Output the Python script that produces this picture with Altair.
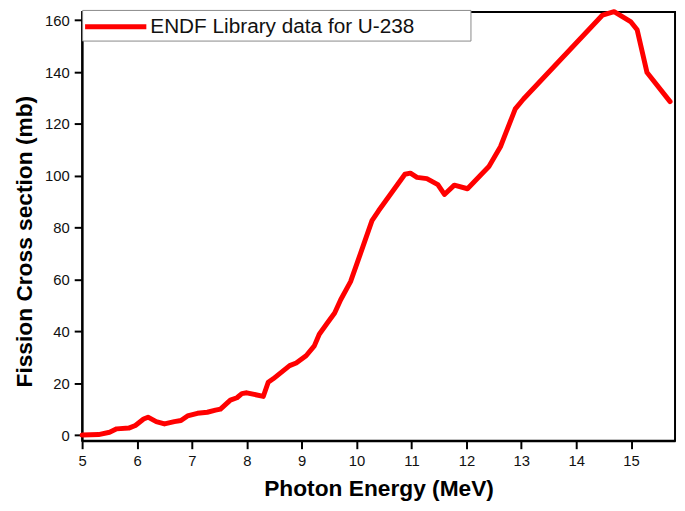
import altair as alt
import pandas as pd

# Photon energy (MeV)
energy = [5.0, 5.3, 5.5, 5.63, 5.85, 5.97, 6.12, 6.2, 6.35, 6.5, 6.68, 6.8, 6.92,
          7.1, 7.28, 7.43, 7.52, 7.7, 7.82, 7.91, 8.0, 8.3, 8.39, 8.48, 8.78, 8.9,
          9.08, 9.23, 9.32, 9.47, 9.6, 9.71, 9.89, 10.07, 10.28, 10.4, 10.88, 10.98,
          11.1, 11.28, 11.48, 11.6, 11.78, 12.02, 12.41, 12.62, 12.89, 13.04, 14.48,
          14.69, 14.99, 15.11, 15.29, 15.71]
# Fission cross section (mb)
cross_section = [0.0, 0.2, 1.1, 2.4, 2.7, 3.7, 6.2, 6.9, 5.2, 4.3, 5.2, 5.6, 7.4,
                 8.4, 8.8, 9.6, 10.0, 13.5, 14.4, 16.0, 16.3, 14.9, 20.4, 21.7, 26.8, 27.8,
                 30.6, 34.4, 38.9, 43.3, 47.1, 52.2, 59.2, 70.0, 82.7, 86.5, 100.6, 101.0,
                 99.4, 98.9, 96.6, 92.8, 96.4, 95.0, 103.6, 111.2, 125.8, 129.6, 162.0,
                 163.3, 159.5, 156.3, 139.8, 128.6]
series_name = "ENDF Library data for U-238"
x_ticks = [5, 6, 7, 8, 9, 10, 11, 12, 13, 14, 15]
y_ticks = [0, 20, 40, 60, 80, 100, 120, 140, 160]

df = pd.DataFrame({"energy": energy, "xs": cross_section, "series": series_name})

FONT = "Liberation Sans"
PAD = "\u00a0" * 9 + "\u200b"
TICK = "black"

chart = alt.Chart(df).mark_line(
    strokeWidth=5, strokeJoin="round", strokeCap="round", clip=False
).encode(
    x=alt.X("energy:Q",
            scale=alt.Scale(domain=[5, 15.8], nice=False, zero=False),
            axis=alt.Axis(values=x_ticks, format="d", title="Photon Energy (MeV)",
                          ticks=True, tickSize=8, tickWidth=2, tickColor=TICK,
                          labelFlush=False,
                          titleY=55, titleBaseline="alphabetic")),
    y=alt.Y("xs:Q",
            scale=alt.Scale(domain=[-2.2, 163.2], nice=False, zero=False),
            axis=alt.Axis(values=y_ticks, format="d", title="Fission Cross section (mb)",
                          ticks=True, tickSize=8, tickWidth=2, tickColor=TICK,
                          labelFlush=False,
                          titleX=-51, titleY=232, titleAngle=270, titleAlign="center",
                          titleBaseline="alphabetic")),
    color=alt.Color("series:N",
                    scale=alt.Scale(domain=[series_name], range=["#ff0000"]),
                    legend=alt.Legend(title=None, orient="none", legendX=0, legendY=-2,
                                      symbolType="M-3,0H3", symbolStrokeWidth=5,
                                      symbolSize=427, symbolOffset=17, labelOffset=22,
                                      labelFontSize=21, labelFont=FONT, labelLimit=1000,
                                      labelColor="#111111", padding=4,
                                      strokeColor="#888888", fillColor="white",
                                      labelExpr="datum.label + '" + PAD + "'")),
).properties(
    width=600, height=434,
    autosize=alt.AutoSizeParams(type="none"),
    padding={"left": 75, "top": 1, "right": 2, "bottom": 60},
).configure_view(
    stroke="black", strokeWidth=2
).configure_axis(
    grid=False, domainColor="black", domainWidth=2, tickColor=TICK, tickWidth=2,
    ticks=True, tickSize=8, labelFont=FONT, labelFontSize=15, labelColor="#111111",
    labelPadding=5, titleFont=FONT, titleFontSize=23, titleFontWeight="bold",
    titleColor="black"
)

chart.save("out.html", embed_options={"renderer": "svg", "actions": False})
